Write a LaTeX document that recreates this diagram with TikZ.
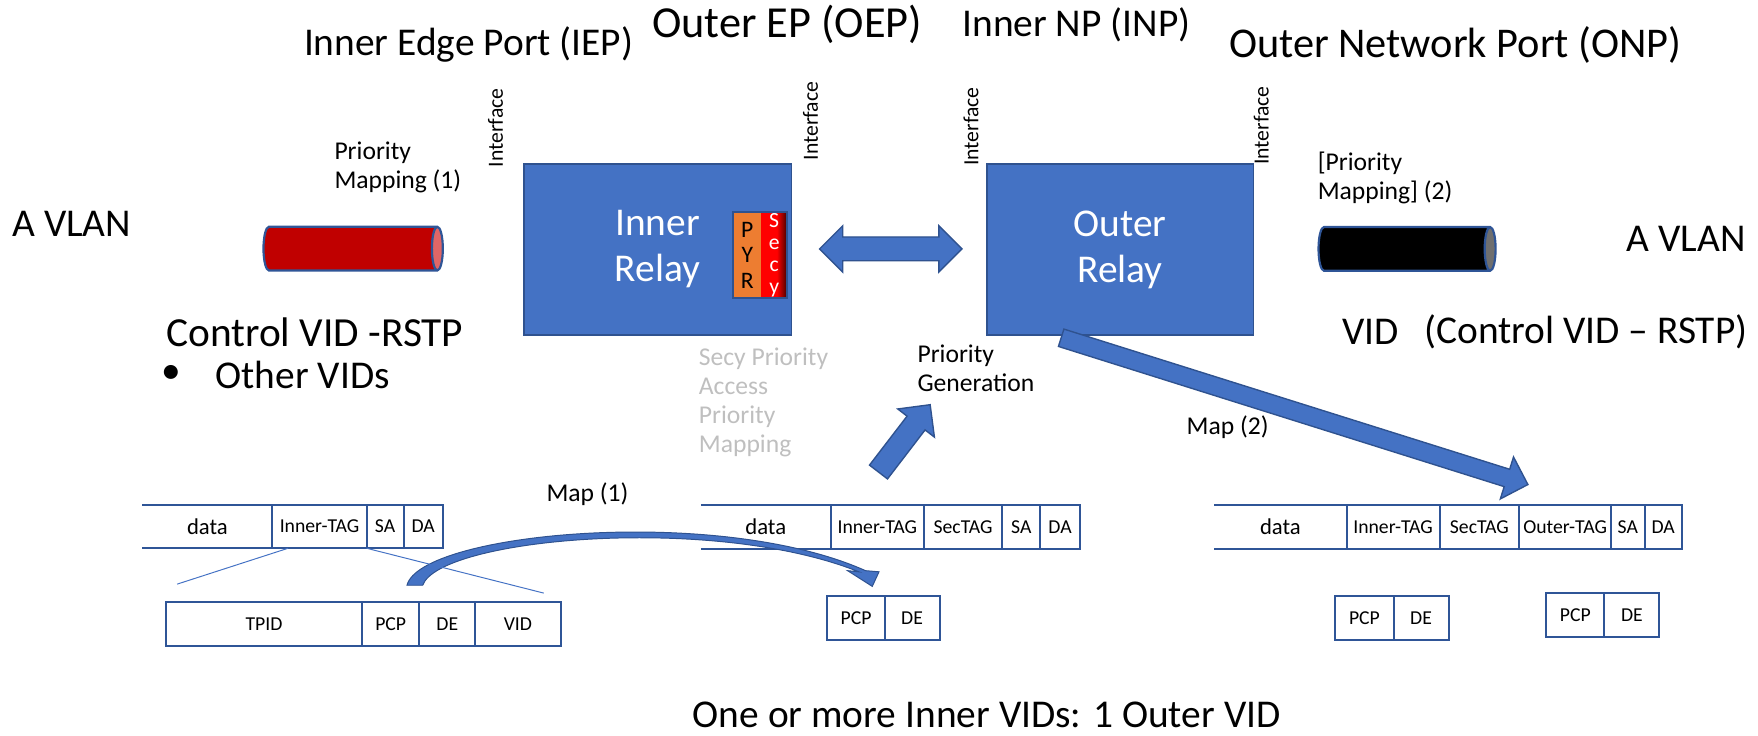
\documentclass[tikz,border=0pt]{standalone}
\usepackage{fontspec}
\setmainfont{Carlito}
\usetikzlibrary{positioning,shapes.geometric,shapes.arrows}

\definecolor{relayblue}{HTML}{4472C4}
\definecolor{relayline}{HTML}{2F528F}
\definecolor{cellline}{HTML}{2F5597}
\definecolor{pyrorange}{HTML}{ED7D31}
\definecolor{vlanred}{HTML}{C00000}
\definecolor{vlanredend}{HTML}{E06666}
\definecolor{vlanblackend}{HTML}{6F6F6F}
\definecolor{notegray}{HTML}{BFBFBF}
\pgfdeclarehorizontalshading{secyshade}{100bp}{color(0bp)=(red); color(55bp)=(red); color(82bp)=(black); color(100bp)=(black)}

\tikzset{
  big/.style={font=\fontsize{20}{24}\selectfont},
  bigleft/.style={big, anchor=west, inner sep=0pt},
  small/.style={font=\fontsize{13}{14.8}\selectfont, align=left, anchor=west, inner sep=0pt},
  iface/.style={font=\fontsize{11}{13}\selectfont, rotate=90, inner sep=0pt},
  relay/.style={draw=relayline, line width=0.9pt, fill=relayblue, minimum width=4.78cm, minimum height=3.06cm, text=white, align=center, font=\fontsize{20}{23.3}\selectfont},
  pyrbox/.style={fill=pyrorange, minimum width=0.5cm, minimum height=1.54cm, inner sep=0pt, outer sep=0pt, align=center, font=\fontsize{12}{13}\selectfont},
  secybox/.style={shading=secyshade, text=white, minimum width=0.46cm, minimum height=1.54cm, inner sep=0pt, outer sep=0pt, align=center, font=\fontsize{11}{11.1}\selectfont},
  cell/.style={draw=cellline, line width=1pt, minimum height=0.78cm, inner sep=0pt, outer sep=0pt, font=\fontsize{10}{12}\selectfont},
  opencell/.style={minimum height=0.78cm, inner sep=0pt, outer sep=0pt, font=\fontsize{11.5}{13}\selectfont},
  zoomline/.style={draw=relayblue, line width=0.5pt},
  blockarrow/.style={draw=relayline, line width=0.7pt, fill=relayblue, inner xsep=0pt},
  vlan/.style={cylinder, shape aspect=0.25, draw=cellline, line width=1.1pt, cylinder uses custom fill, minimum height=3.2cm, inner xsep=0pt, inner ysep=0.39cm, anchor=west, outer sep=0pt}
}

\begin{document}
\begin{tikzpicture}[x=0.02cm, y=-0.02cm]
\useasboundingbox (0,0) rectangle (1568,655.6);

\node[big] (iep) at (418,40) {Inner Edge Port (IEP)};
\node[big, font=\fontsize{22.5}{27}\selectfont] (oep) at (702,22) {Outer EP (OEP)};
\node[big] (inp) at (960,22) {Inner NP (INP)};
\node[big, font=\fontsize{21.5}{26}\selectfont] (onp) at (1298,40) {Outer Network Port (ONP)};
\node[iface] (if1) at (442,114) {Interface};
\node[iface] (if2) at (723,108) {Interface};
\node[iface] (if3) at (866,113) {Interface};
\node[iface] (if4) at (1125,112) {Interface};

\node[relay] (inner) at (586.5,222.5) {Inner\\Relay};
\node[relay, minimum width=4.76cm] (outer) at (999,222.5) {Outer\\Relay};
\node[pyrbox] (pyr) at (666.5,227.5) {P\\Y\\R};
\node[secybox, right=0pt of pyr] (secy) {S\\e\\c\\y};
\draw[relayline, line width=0.9pt] (pyr.north west) rectangle (secy.south east);

\node[blockarrow, double arrow, double arrow head extend=0.2cm, inner ysep=0.2cm, minimum height=2.54cm, minimum width=0.8cm] (link) at (794.5,222) {};
\node[blockarrow, single arrow, single arrow head extend=0.21cm, inner ysep=0.19cm, minimum height=1.514cm, minimum width=0.8cm, rotate=52.5] (genarrow) at (803.5,395) {};
\node[blockarrow, single arrow, single arrow head extend=0.23cm, inner ysep=0.15cm, minimum height=8.73cm, minimum width=0.76cm, rotate=-17.46] (maparrow) at (1150.75,365.5) {};

\node[vlan, cylinder body fill=vlanred, cylinder end fill=vlanredend] (redpipe) at (235,221.75) {};
\node[vlan, minimum height=3.16cm, cylinder body fill=black, cylinder end fill=vlanblackend] (blackpipe) at (1176,222) {};

\node[big] (vlanl) at (64,200) {A VLAN};
\node[big] (vlanr) at (1504,213) {A VLAN};
\node[small] (pm1) at (298,149) {Priority\\Mapping (1)};
\node[small] (pm2) at (1175,158.5) {[Priority\\Mapping] (2)};
\node[bigleft, font=\fontsize{21}{25}\selectfont] (ctl) at (148,296) {Control VID -RSTP};
\node[big] (bul) at (153,334) {\textbullet};
\node[bigleft] (oth) at (192,334) {Other VIDs};
\node[bigleft] (vid) at (1197,296) {VID};
\node[bigleft] (ctlr) at (1270,296) {(Control VID – RSTP)};
\node[small, text=notegray] (secynote) at (623,359) {Secy Priority\\Access\\Priority\\Mapping};
\node[small] (gen) at (818,328.5) {Priority\\Generation};
\node[small, anchor=center] (map1) at (524,441) {Map (1)};
\node[small, anchor=center] (map2) at (1095,381) {Map (2)};
\node[big] (summary) at (880,638) {One or more Inner VIDs: 1 Outer VID};

\node[opencell, minimum width=2.32cm] (data1) at (185,469.5) {data};
\node[cell, minimum width=1.68cm, right=0pt of data1] (itag1) {Inner-TAG};
\node[cell, minimum width=0.66cm, right=0pt of itag1] (sa1) {SA};
\node[cell, minimum width=0.70cm, right=0pt of sa1] (da1) {DA};
\draw[cellline, line width=1pt] (data1.north west) -- (data1.north east) (data1.south west) -- (data1.south east);

\node[opencell, minimum width=2.32cm] (data2) at (683,470) {data};
\node[cell, minimum width=1.66cm, right=0pt of data2] (itag2) {Inner-TAG};
\node[cell, minimum width=1.40cm, right=0pt of itag2] (sec2) {SecTAG};
\node[cell, minimum width=0.68cm, right=0pt of sec2] (sa2) {SA};
\node[cell, minimum width=0.70cm, right=0pt of sa2] (da2) {DA};
\draw[cellline, line width=1pt] (data2.north west) -- (data2.north east) (data2.south west) -- (data2.south east);

\node[opencell, minimum width=2.36cm] (data3) at (1142,470) {data};
\node[cell, minimum width=1.66cm, right=0pt of data3] (itag3) {Inner-TAG};
\node[cell, minimum width=1.42cm, right=0pt of itag3] (sec3) {SecTAG};
\node[cell, minimum width=1.64cm, right=0pt of sec3] (otag3) {Outer-TAG};
\node[cell, minimum width=0.60cm, right=0pt of otag3] (sa3) {SA};
\node[cell, minimum width=0.66cm, right=0pt of sa3] (da3) {DA};
\draw[cellline, line width=1pt] (data3.north west) -- (data3.north east) (data3.south west) -- (data3.south east);

\node[cell, minimum width=3.5cm] (tpid) at (235.5,556.5) {TPID};
\node[cell, minimum width=1.02cm, right=0pt of tpid] (pcp1) {PCP};
\node[cell, minimum width=1.00cm, right=0pt of pcp1] (de1) {DE};
\node[cell, minimum width=1.52cm, right=0pt of de1] (vid1) {VID};

\node[cell, minimum width=1.02cm] (pcp2) at (763.5,551) {PCP};
\node[cell, minimum width=0.98cm, right=0pt of pcp2] (de2) {DE};
\node[cell, minimum width=1.04cm] (pcp3) at (1217,551) {PCP};
\node[cell, minimum width=0.98cm, right=0pt of pcp3] (de3) {DE};
\node[cell, minimum width=1.04cm] (pcp4) at (1405,548.5) {PCP};
\node[cell, minimum width=0.98cm, right=0pt of pcp4] (de4) {DE};

\fill[relayblue, draw=relayline, line width=0.5pt] (363,522) .. controls (375,475) and (640,450) .. (772,509) -- (784,510) -- (778,523) -- (756,509) -- (766,510) .. controls (636,458) and (392,480) .. (377,522) -- cycle;

\coordinate (z1) at (158,521);
\coordinate (z2) at (485,529);
\draw[zoomline] ([xshift=0.28cm]itag1.south west) -- (z1);
\draw[zoomline] (sa1.south west) -- (z2);
\end{tikzpicture}
\end{document}
